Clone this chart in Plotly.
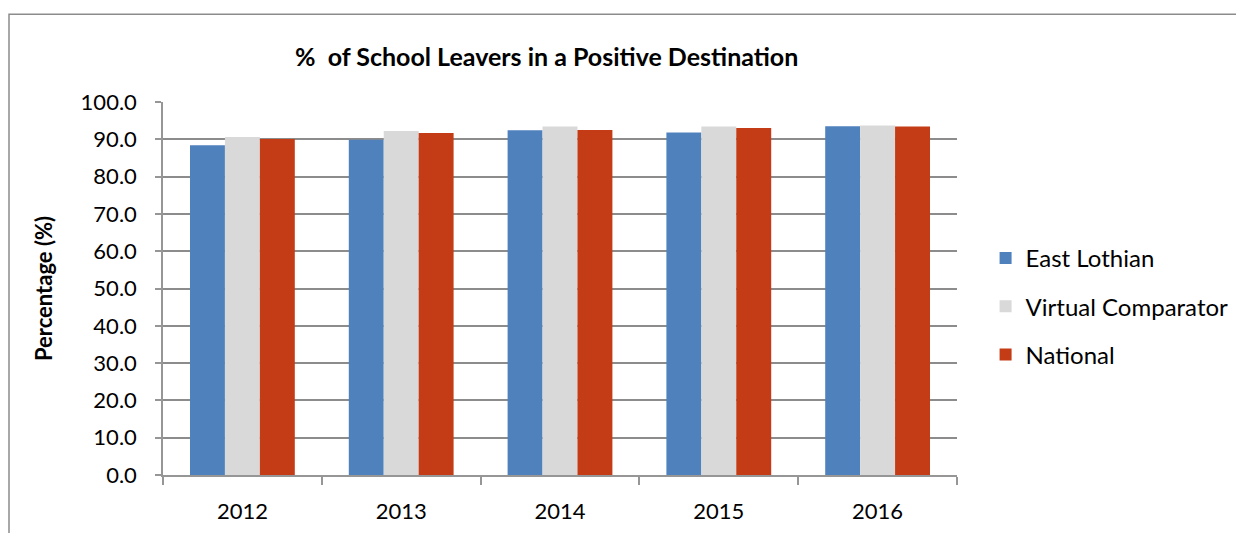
import plotly.graph_objects as go

years = ["2012", "2013", "2014", "2015", "2016"]
east_lothian = [88.4, 89.9, 92.4, 91.8, 93.5]
virtual_comparator = [90.6, 92.2, 93.4, 93.4, 93.7]
national = [90.1, 91.7, 92.5, 93.0, 93.4]
y_ticks = [0, 10, 20, 30, 40, 50, 60, 70, 80, 90, 100]

FONT = "Lato"
AXIS_GREY = "#969696"

fig = go.Figure()
fig.add_trace(go.Bar(name="East Lothian", x=years, y=east_lothian, marker_color="#4F81BD",
                     marker_line_width=0, legendgroup="a"))
fig.add_trace(go.Bar(name="Virtual Comparator", x=years, y=virtual_comparator, marker_color="#D9D9D9",
                     marker_line_width=0, legendgroup="b"))
fig.add_trace(go.Bar(name="National", x=years, y=national, marker_color="#C33C15",
                     marker_line_width=0, legendgroup="c"))

fig.update_layout(
    width=1244, height=533,
    paper_bgcolor="white", plot_bgcolor="white",
    barmode="group", bargap=0.34, bargroupgap=0,
    margin=dict(l=155, r=295, t=94, b=66),
    font=dict(family=FONT, size=22, color="black"),
    title=dict(text="<b>%  of School Leavers in a Positive Destination</b>",
               x=0.433, xanchor="center", y=0.908, yanchor="middle",
               font=dict(family=FONT, size=25, color="black")),
    legend=dict(x=1.036, xanchor="left", y=0.452, yanchor="middle",
                font=dict(family=FONT, size=24, color="black"),
                tracegroupgap=14, itemwidth=30),
    showlegend=True,
    xaxis=dict(showgrid=False, showline=True, linecolor=AXIS_GREY, linewidth=1.5,
               ticks="outside", ticklen=8, tickcolor=AXIS_GREY, tickwidth=1.5,
               tickson="boundaries", tickfont=dict(size=22), ticklabelstandoff=16),
    yaxis=dict(range=[0, 100], tickvals=y_ticks, tickformat=".1f",
               showgrid=True, gridcolor="#8C8C8C", gridwidth=1.5,
               showline=True, linecolor=AXIS_GREY, linewidth=1.5,
               ticks="outside", ticklen=6, tickcolor=AXIS_GREY, tickwidth=1.5,
               tickfont=dict(size=22), ticklabelstandoff=14,
               title=dict(text="<b>Percentage (%)</b>", font=dict(family=FONT, size=22), standoff=22)),
)

fig.add_shape(type="rect", xref="paper", yref="paper",
              x0=-154/794, y0=-100/374, x1=2.0, y1=(475-13)/374,
              line=dict(color="#8C8C8C", width=1.5), fillcolor="rgba(0,0,0,0)", layer="below")

fig.write_html("out.html")
